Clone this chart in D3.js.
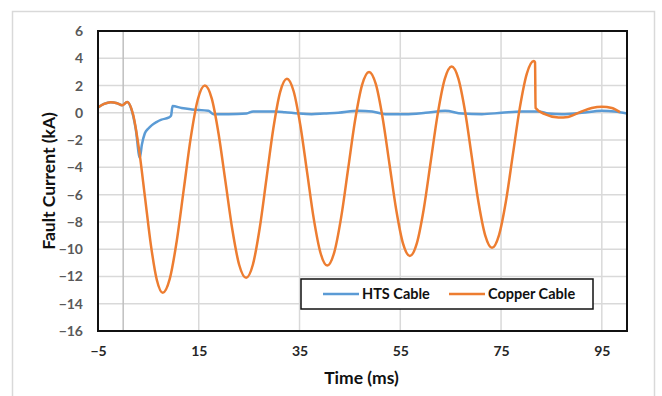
<!DOCTYPE html>
<html>
<head>
<meta charset="utf-8">
<script src="https://cdn.jsdelivr.net/npm/d3@7"></script>
<style>
  body { margin: 0; background: #fff; }
  svg { display: block; font-family: "Lato", "Liberation Sans", sans-serif; }
</style>
</head>
<body>
<div id="chart"></div>
<script>
// values
var copperTime = [-5, -3.8, -2.5, -1.2, -0.2, 0.8, 1.98, 3.15, 4.33, 5.5, 6.68, 7.85, 9.24, 10.63, 12.03, 13.42, 14.81, 16.2, 17.57, 18.93, 20.3, 21.67, 23.03, 24.4, 25.75, 27.1, 28.45, 29.8, 31.15, 32.5, 33.83, 35.17, 36.5, 37.83, 39.17, 40.5, 41.88, 43.27, 44.65, 46.03, 47.42, 48.8, 50.15, 51.5, 52.85, 54.2, 55.55, 56.9, 58.28, 59.67, 61.05, 62.43, 63.82, 65.2, 66.53, 67.87, 69.2, 70.53, 71.87, 73.2, 74.58, 75.97, 77.35, 78.73, 80.12, 81.5, 81.75, 81.85, 83.7, 86.4, 88.3, 91.0, 93.0, 95.0, 97.0, 98.6];
var copperKA   = [0.4, 0.65, 0.78, 0.7, 0.55, 0.8, -0.14, -2.7, -6.2, -9.7, -12.26, -13.2, -12.18, -9.4, -5.6, -1.8, 0.98, 2.0, 1.06, -1.53, -5.05, -8.58, -11.16, -12.1, -11.12, -8.45, -4.8, -1.15, 1.52, 2.5, 1.58, -0.93, -4.35, -7.78, -10.28, -11.2, -10.25, -7.65, -4.1, -0.55, 2.05, 3.0, 2.1, -0.38, -3.75, -7.13, -9.6, -10.5, -9.57, -7.03, -3.55, -0.08, 2.47, 3.4, 2.51, 0.08, -3.25, -6.58, -9.01, -9.9, -8.98, -6.48, -3.05, 0.38, 2.88, 3.8, 3.7, 0.35, -0.1, -0.35, -0.3, 0.1, 0.35, 0.45, 0.35, 0.05];

var htsTime = [-5, -3.8, -2.5, -1.2, -0.2, 0.8, 1.55, 2.5, 3.3, 3.7, 4.3, 5.0, 5.7, 6.6, 7.6, 9.0, 9.5, 9.8, 11.6, 13.6, 16.9, 17.9, 20.9, 24.5, 25.8, 30.1, 32.1, 34.8, 37.4, 39.9, 42.7, 46.7, 49.4, 52, 56, 60, 63.9, 67.2, 71.2, 75.1, 79.1, 82.4, 84.4, 87.1, 91, 95, 97.6, 100];
var htsKA   = [0.4, 0.65, 0.78, 0.7, 0.55, 0.8, 0.35, -1.2, -3.3, -2.35, -1.5, -1.15, -0.9, -0.68, -0.5, -0.35, -0.2, 0.5, 0.35, 0.25, 0.15, -0.1, -0.1, -0.05, 0.1, 0.1, 0.05, -0.05, -0.1, -0.05, 0, 0.15, 0.1, -0.1, -0.1, 0, 0.15, -0.05, -0.1, 0, 0.1, 0.1, -0.05, -0.1, 0, 0.15, 0.1, -0.05];

var xTicks = [-5, 15, 35, 55, 75, 95];
var yTicks = [-16, -14, -12, -10, -8, -6, -4, -2, 0, 2, 4, 6];
var xDomain = [-5, 100];
var yDomain = [-16, 6];
var markTime = [0];

var seriesNames = ['HTS Cable', 'Copper Cable'];
var seriesColors = ['#5B9BD5', '#ED7D31'];

var width = 662, height = 396;
var margin = {top: 31, right: 35, bottom: 65, left: 98};

var svg = d3.select('#chart').append('svg').attr('width', width).attr('height', height);

// chart frame
svg.append('rect')
  .attr('x', 12.5).attr('y', 11.5)
  .attr('width', 642).attr('height', 400)
  .attr('fill', 'none').attr('stroke', '#d9d9d9').attr('stroke-width', 1.5);

var xScale = d3.scaleLinear().domain(xDomain).range([margin.left, width - margin.right]);
var yScale = d3.scaleLinear().domain(yDomain).range([height - margin.bottom, margin.top]);

var grid = svg.append('g');
grid.selectAll('.hgrid').data(yTicks).enter().append('line')
  .attr('x1', xScale(xDomain[0])).attr('x2', xScale(xDomain[1]))
  .attr('y1', (d) => yScale(d)).attr('y2', (d) => yScale(d))
  .attr('stroke', '#d9d9d9').attr('stroke-width', 1.5);
grid.selectAll('.vgrid').data(xTicks).enter().append('line')
  .attr('x1', (d) => xScale(d)).attr('x2', (d) => xScale(d))
  .attr('y1', yScale(yDomain[0])).attr('y2', yScale(yDomain[1]))
  .attr('stroke', '#d9d9d9').attr('stroke-width', 1.5);
grid.selectAll('.mark').data(markTime).enter().append('line')
  .attr('x1', (d) => xScale(d)).attr('x2', (d) => xScale(d))
  .attr('y1', yScale(yDomain[0])).attr('y2', yScale(yDomain[1]))
  .attr('stroke', '#bfbfbf').attr('stroke-width', 1.5);

var line = d3.line()
  .x((d) => xScale(d[0]))
  .y((d) => yScale(d[1]))
  .curve(d3.curveMonotoneX);

var series = [
  {name: seriesNames[0], color: seriesColors[0], pts: d3.zip(htsTime, htsKA)},
  {name: seriesNames[1], color: seriesColors[1], pts: d3.zip(copperTime, copperKA)}
];

svg.append('defs').append('clipPath').attr('id', 'clip')
  .append('rect')
  .attr('x', xScale(xDomain[0])).attr('y', yScale(yDomain[1]))
  .attr('width', xScale(xDomain[1]) - xScale(xDomain[0]))
  .attr('height', yScale(yDomain[0]) - yScale(yDomain[1]));

svg.append('g').attr('clip-path', 'url(#clip)')
  .selectAll('path').data(series).enter().append('path')
  .attr('d', (d) => line(d.pts))
  .attr('fill', 'none')
  .attr('stroke', (d) => d.color)
  .attr('stroke-width', 2.5)
  .attr('stroke-linejoin', 'round');

// plot border
svg.append('rect')
  .attr('x', xScale(xDomain[0])).attr('y', yScale(yDomain[1]))
  .attr('width', xScale(xDomain[1]) - xScale(xDomain[0]))
  .attr('height', yScale(yDomain[0]) - yScale(yDomain[1]))
  .attr('fill', 'none').attr('stroke', '#111').attr('stroke-width', 2);

// axes
var xAxis = svg.append('g')
  .attr('transform', `translate(0,${yScale(yDomain[0])})`)
  .call(d3.axisBottom(xScale).tickValues(xTicks).tickSize(0).tickPadding(15));
var yAxis = svg.append('g')
  .attr('transform', `translate(${xScale(xDomain[0])},0)`)
  .call(d3.axisLeft(yScale).tickValues(yTicks).tickSize(0).tickPadding(15));
[xAxis, yAxis].forEach(function(ax) {
  ax.select('.domain').remove();
  ax.selectAll('text')
    .style('font-family', 'Lato, sans-serif')
    .style('font-size', '14px')
    .style('font-weight', 'bold')
    .attr('fill', '#595959');
});
xAxis.selectAll('text').attr('fill', '#262626');

// axis titles
svg.append('text')
  .attr('x', (xScale(xDomain[0]) + xScale(xDomain[1])) / 2 - 1)
  .attr('y', 384)
  .attr('text-anchor', 'middle')
  .style('font-size', '17.5px').style('font-weight', 'bold')
  .attr('fill', '#111')
  .text('Time (ms)');
svg.append('text')
  .attr('transform', `translate(55,${(yScale(yDomain[0]) + yScale(yDomain[1])) / 2}) rotate(-90)`)
  .attr('text-anchor', 'middle')
  .style('font-size', '17.5px').style('font-weight', 'bold')
  .attr('fill', '#111')
  .text('Fault Current (kA)');

// legend
var legend = svg.append('g').attr('transform', 'translate(301,279)');
legend.append('rect')
  .attr('width', 292).attr('height', 30)
  .attr('fill', '#fff').attr('stroke', '#111').attr('stroke-width', 1.5);
var item = legend.selectAll('.item').data(series).enter().append('g')
  .attr('transform', (d, i) => `translate(${i == 0 ? 22 : 148},15)`);
item.append('line')
  .attr('x1', 0).attr('x2', 36)
  .attr('stroke', (d) => d.color).attr('stroke-width', 2.5);
item.append('text')
  .attr('x', 39).attr('dy', '0.35em')
  .style('font-size', '14.5px').style('font-weight', 'bold')
  .attr('fill', '#111')
  .text((d) => d.name);
</script>
</body>
</html>
